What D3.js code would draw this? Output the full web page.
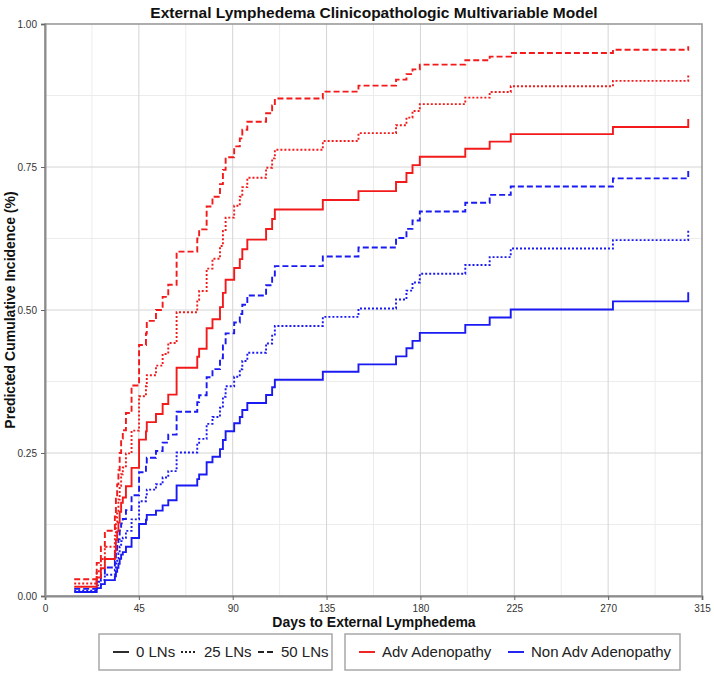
<!DOCTYPE html>
<html>
<head>
<meta charset="utf-8">
<script src="https://cdn.jsdelivr.net/npm/d3@7"></script>
<style>
  html, body { margin: 0; padding: 0; background: #fff; }
  svg { display: block; font-family: "Liberation Sans", Arial, sans-serif; }
</style>
</head>
<body>
<svg id="chart" width="714" height="674"></svg>
<script>
// ---- data ----
const days = [14.0, 24.8, 26.8, 28.7, 33.5, 34.0, 34.6, 35.2, 35.8, 36.5, 37.3, 38.8, 41.5, 45.1, 48.4, 48.8,
  53.2, 56.4, 59.1, 63.1, 73.0, 73.9, 77.5, 80.3, 83.9, 85.3, 86.6, 90.7, 93.4, 94.6, 97.0, 106.0, 108.9,
  110.2, 133.2, 150.3, 168.3, 173.3, 176.2, 179.7, 201.5, 213.2, 223.3, 272.3, 308.4];

const nonAdv0 = [0.0069, 0.0138, 0.0208, 0.0278, 0.0343, 0.0425, 0.0493, 0.0563, 0.0649, 0.0723, 0.0767, 0.0860,
  0.1015, 0.1260, 0.1334, 0.1418, 0.1492, 0.1584, 0.1673, 0.1933, 0.2044, 0.2124, 0.2338, 0.2435, 0.2567, 0.2728,
  0.2880, 0.3019, 0.3129, 0.3252, 0.3375, 0.3515, 0.3649, 0.3781, 0.3920, 0.4050, 0.4190, 0.4330, 0.4460, 0.4600,
  0.4740, 0.4870, 0.5010, 0.5150, 0.5310];
const nonAdv25 = [0.0092, 0.0185, 0.0279, 0.0372, 0.0459, 0.0567, 0.0658, 0.0749, 0.0863, 0.0960, 0.1018, 0.1139,
  0.1340, 0.1657, 0.1752, 0.1859, 0.1954, 0.2071, 0.2183, 0.2509, 0.2647, 0.2747, 0.3010, 0.3130, 0.3291, 0.3484,
  0.3667, 0.3833, 0.3963, 0.4108, 0.4252, 0.4415, 0.4570, 0.4721, 0.4879, 0.5026, 0.5183, 0.5338, 0.5481, 0.5634,
  0.5786, 0.5925, 0.6074, 0.6221, 0.6388];
const nonAdv50 = [0.0124, 0.0248, 0.0373, 0.0498, 0.0612, 0.0755, 0.0875, 0.0995, 0.1144, 0.1269, 0.1345, 0.1502,
  0.1761, 0.2164, 0.2283, 0.2418, 0.2536, 0.2682, 0.2821, 0.3221, 0.3389, 0.3509, 0.3825, 0.3966, 0.4155, 0.4381,
  0.4592, 0.4782, 0.4929, 0.5093, 0.5253, 0.5434, 0.5603, 0.5767, 0.5936, 0.6093, 0.6258, 0.6419, 0.6566, 0.6722,
  0.6874, 0.7013, 0.7158, 0.7301, 0.7460];
const adv0 = [0.0162, 0.0324, 0.0486, 0.0647, 0.0794, 0.0977, 0.1130, 0.1282, 0.1470, 0.1629, 0.1723, 0.1919,
  0.2240, 0.2733, 0.2878, 0.3040, 0.3182, 0.3356, 0.3521, 0.3990, 0.4183, 0.4322, 0.4680, 0.4839, 0.5050, 0.5299,
  0.5528, 0.5733, 0.5890, 0.6063, 0.6231, 0.6417, 0.6590, 0.6756, 0.6924, 0.7079, 0.7239, 0.7394, 0.7533, 0.7679,
  0.7819, 0.7944, 0.8075, 0.8200, 0.8338];
const adv25 = [0.0218, 0.0434, 0.0648, 0.0860, 0.1054, 0.1293, 0.1491, 0.1687, 0.1927, 0.2128, 0.2247, 0.2493,
  0.2892, 0.3493, 0.3667, 0.3860, 0.4028, 0.4232, 0.4424, 0.4960, 0.5177, 0.5332, 0.5724, 0.5895, 0.6119, 0.6380,
  0.6615, 0.6823, 0.6979, 0.7148, 0.7311, 0.7488, 0.7650, 0.7802, 0.7955, 0.8092, 0.8231, 0.8363, 0.8480, 0.8599,
  0.8712, 0.8811, 0.8911, 0.9006, 0.9107];
const adv50 = [0.0292, 0.0579, 0.0861, 0.1140, 0.1390, 0.1699, 0.1951, 0.2199, 0.2501, 0.2751, 0.2899, 0.3200,
  0.3681, 0.4389, 0.4590, 0.4810, 0.5000, 0.5229, 0.5441, 0.6021, 0.6249, 0.6410, 0.6810, 0.6980, 0.7200, 0.7450,
  0.7670, 0.7860, 0.8000, 0.8150, 0.8290, 0.8440, 0.8574, 0.8697, 0.8817, 0.8922, 0.9027, 0.9123, 0.9206, 0.9289,
  0.9365, 0.9429, 0.9493, 0.9551, 0.9612];

const xTicks = [0, 45, 90, 135, 180, 225, 270, 315];
const yTicks = [0, 0.25, 0.5, 0.75, 1.0];
const lnLabels = ["0 LNs", "25 LNs", "50 LNs"];
const groupLabels = ["Adv Adenopathy", "Non Adv Adenopathy"];

const titleText = "External Lymphedema Clinicopathologic Multivariable Model";
const xTitle = "Days to External Lymphedema";
const yTitle = "Predicted Cumulative Incidence (%)";

// ---- styles ----
const RED = "#f21a1a", BLUE = "#1a1af2";
const dashes = ["none", "2,2", "6,3"];

const svg = d3.select("#chart");
const L = 45, R = 702, T = 24, B = 596;
const x = d3.scaleLinear().domain([0, 315]).range([L, R]);
const y = d3.scaleLinear().domain([0, 1]).range([B, T]);

// grid
const g = svg.append("g");
const vMinor = d3.range(22.5, 315, 45), hMinor = d3.range(0.125, 1, 0.25);
g.selectAll(".vmin").data(vMinor).join("line")
  .attr("x1", d => x(d)).attr("x2", d => x(d)).attr("y1", T).attr("y2", B)
  .attr("stroke", "#ececec").attr("stroke-width", 1);
g.selectAll(".hmin").data(hMinor).join("line")
  .attr("y1", d => y(d)).attr("y2", d => y(d)).attr("x1", L).attr("x2", R)
  .attr("stroke", "#ececec").attr("stroke-width", 1);
g.selectAll(".vmaj").data(xTicks.slice(1, -1)).join("line")
  .attr("x1", d => x(d)).attr("x2", d => x(d)).attr("y1", T).attr("y2", B)
  .attr("stroke", "#d4d4d4").attr("stroke-width", 1);
g.selectAll(".hmaj").data(yTicks.slice(1, -1)).join("line")
  .attr("y1", d => y(d)).attr("y2", d => y(d)).attr("x1", L).attr("x2", R)
  .attr("stroke", "#d4d4d4").attr("stroke-width", 1);

// curves
const line = d3.line().x(d => x(d[0])).y(d => y(d[1])).curve(d3.curveStepAfter);
const series = [
  { v: nonAdv0, c: BLUE, d: 0 }, { v: nonAdv25, c: BLUE, d: 1 }, { v: nonAdv50, c: BLUE, d: 2 },
  { v: adv0, c: RED, d: 0 }, { v: adv25, c: RED, d: 1 }, { v: adv50, c: RED, d: 2 }
];
svg.append("g").selectAll("path").data(series).join("path")
  .attr("d", s => line(days.map((t, i) => [t, s.v[i]])))
  .attr("fill", "none").attr("stroke", s => s.c).attr("stroke-width", 1.9)
  .attr("stroke-dasharray", s => dashes[s.d]);

// frame
svg.append("rect").attr("x", L).attr("y", T).attr("width", R - L).attr("height", B - T)
  .attr("fill", "none").attr("stroke", "#9a9a9a").attr("stroke-width", 1.6);

// axes
const xAxis = d3.axisBottom(x).tickValues(xTicks).tickSize(4).tickFormat(d3.format("d"));
const yAxis = d3.axisLeft(y).tickValues(yTicks).tickSize(4).tickFormat(d3.format(".2f"));
const ax = svg.append("g").attr("transform", `translate(0,${B})`).call(xAxis);
const ay = svg.append("g").attr("transform", `translate(${L},0)`).call(yAxis);
[ax, ay].forEach(a => {
  a.select(".domain").attr("stroke", "#8c8c8c").attr("stroke-width", 2);
  a.selectAll(".tick line").attr("stroke", "#666");
  a.selectAll(".tick text").attr("font-size", 10).attr("fill", "#333")
    .attr("font-family", "'Liberation Sans', Arial, sans-serif");
});
ax.selectAll(".tick text").attr("dy", "0.9em");
ay.selectAll(".tick text").attr("dx", "-1px");

// titles
svg.append("text").attr("x", 374).attr("y", 18).attr("text-anchor", "middle")
  .attr("font-size", 15.5).attr("font-weight", "bold").attr("fill", "#111").text(titleText);
svg.append("text").attr("x", 374).attr("y", 627).attr("text-anchor", "middle")
  .attr("font-size", 14).attr("font-weight", "bold").attr("fill", "#111").text(xTitle);
svg.append("text").attr("transform", `translate(15,${(T + B) / 2}) rotate(-90)`).attr("text-anchor", "middle")
  .attr("font-size", 14).attr("font-weight", "bold").attr("fill", "#111").text(yTitle);

// legend
const legY = 634, legH = 36, midY = legY + legH / 2;
const boxes = [{ x: 99, w: 233 }, { x: 345, w: 335 }];
svg.append("g").selectAll("rect").data(boxes).join("rect")
  .attr("x", b => b.x).attr("y", legY).attr("width", b => b.w).attr("height", legH)
  .attr("fill", "#fff").attr("stroke", "#a8a8a8").attr("stroke-width", 1.5);

const lnX = [113, 181, 258];
const lg1 = svg.append("g").selectAll("g").data(lnLabels).join("g")
  .attr("transform", (d, i) => `translate(${lnX[i]},${midY})`);
lg1.append("line").attr("x1", 0).attr("x2", 16).attr("stroke", "#222").attr("stroke-width", 1.9)
  .attr("stroke-dasharray", (d, i) => dashes[i]);
lg1.append("text").attr("x", 23).attr("dy", "0.35em").attr("font-size", 15).attr("fill", "#222").text(d => d);

const grX = [359, 508], grC = [RED, BLUE];
const lg2 = svg.append("g").selectAll("g").data(groupLabels).join("g")
  .attr("transform", (d, i) => `translate(${grX[i]},${midY})`);
lg2.append("line").attr("x1", 0).attr("x2", 16).attr("stroke", (d, i) => grC[i]).attr("stroke-width", 1.9);
lg2.append("text").attr("x", 23).attr("dy", "0.35em").attr("font-size", 15).attr("fill", "#222").text(d => d);
</script>
</body>
</html>
